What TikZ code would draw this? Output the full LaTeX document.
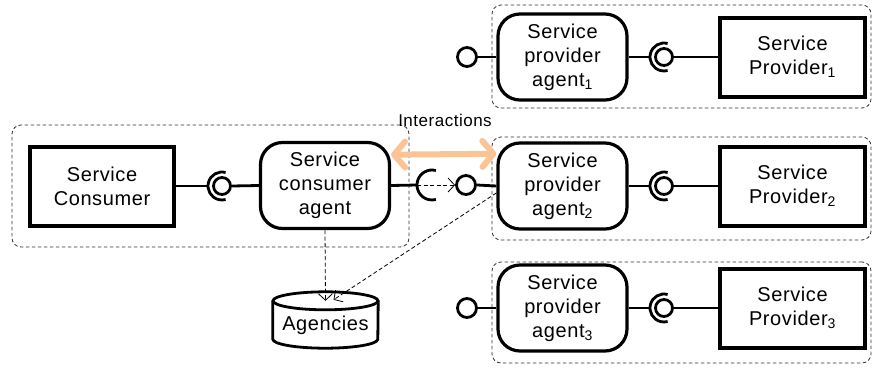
\documentclass[tikz,border=0pt]{standalone}
\usepackage{fontspec}
\setmainfont{Liberation Sans}[LetterSpace=3]
\usetikzlibrary{arrows.meta,positioning,calc}

\definecolor{peach}{RGB}{250,196,150}

\tikzset{
  group/.style={draw=black!80, dash pattern=on 3.5pt off 2.5pt, line width=0.8pt, rounded corners=9pt},
  agent/.style={draw, fill=white, rounded corners=22pt, line width=3.2pt, minimum width=129pt, minimum height=86pt, inner sep=1pt},
  party/.style={draw, fill=white, line width=4pt, minimum width=144pt, minimum height=79pt},
  ball/.style={draw, fill=white, circle, line width=2.8pt, minimum size=17pt, inner sep=0pt},
  wire/.style={line width=2.8pt},
  lookup/.style={dash pattern=on 4pt off 2.5pt, line width=0.8pt, -{Straight Barb[length=6.5pt, width=14pt]}},
}

% socket half-circle opening to the right, centred on #2
\newcommand{\socketarc}[2][14pt]{\draw[line width=2.8pt] (#2) ++(75:#1) arc[start angle=75, end angle=285, radius=#1];}

\begin{document}
\begin{tikzpicture}[x=1pt, y=-1pt, font=\fontsize{20}{24}\selectfont, every node/.style={align=center}]
  \useasboundingbox (0,0) rectangle (875,367);

  % dashed groupings
  \node[group, minimum width=397pt, minimum height=122pt] (gcons) at (210.5,186) {};
  \node[group, minimum width=379pt, minimum height=103pt] (gprov1) at (681.5,56.5) {};
  \node[group, minimum width=379pt, minimum height=103pt] (gprov2) at (681.5,188.5) {};
  \node[group, minimum width=379pt, minimum height=101pt] (gprov3) at (681.5,312.5) {};

  % consumer side
  \node[party] (sc) at (102,186) {Service\\Consumer};
  \node[agent] (ca) at (325,185.5) {Service\\consumer\\agent};
  \coordinate (kc) at (222,186);
  \node[ball] (bc) at (kc) {};
  \draw[wire] (sc.east) -- ($(kc)+(-14,0)$);
  \socketarc{kc}
  \draw[wire] (bc.east) -- (ca.west);

  % provider agents and providers
  \node[agent] (pa1) at (562.5,57) {Service\\provider\\agent\textsubscript{1}};
  \node[agent] (pa2) at (562.5,186) {Service\\provider\\agent\textsubscript{2}};
  \node[agent] (pa3) at (562.5,308) {Service\\provider\\agent\textsubscript{3}};
  \node[party, minimum width=145pt] (sp1) at (792.5,57) {Service\\Provider\textsubscript{1}};
  \node[party, minimum width=145pt] (sp2) at (792.5,186) {Service\\Provider\textsubscript{2}};
  \node[party, minimum width=145pt] (sp3) at (792.5,308) {Service\\Provider\textsubscript{3}};

  \coordinate (kp1) at (664,57);
  \coordinate (kp2) at (664,186);
  \coordinate (kp3) at (664,308);
  \node[ball] (bp1) at (kp1) {};
  \node[ball] (bp2) at (kp2) {};
  \node[ball] (bp3) at (kp3) {};
  \draw[wire] (pa1.east) -- ($(kp1)+(-14,0)$);
  \draw[wire] (pa2.east) -- ($(kp2)+(-14,0)$);
  \draw[wire] (pa3.east) -- ($(kp3)+(-14,0)$);
  \socketarc{kp1}
  \socketarc{kp2}
  \socketarc{kp3}
  \draw[wire] (bp1.east) -- (sp1.west);
  \draw[wire] (bp2.east) -- (sp2.west);
  \draw[wire] (bp3.east) -- (sp3.west);

  % offered interfaces of the provider agents
  \node[ball, minimum size=19pt] (ba1) at (467,57) {};
  \node[ball, minimum size=19pt] (ba2) at (466,185) {};
  \node[ball, minimum size=19pt] (ba3) at (467,308) {};
  \draw[wire] (ba1.east) -- (pa1.west);
  \draw[wire] (ba2.east) -- (pa2.west);
  \draw[wire] (ba3.east) -- (pa3.west);

  % required interface of the consumer agent
  \coordinate (kca) at (432,185);
  \draw[wire] (ca.east) -- ($(kca)+(-15,0)$);
  \socketarc[15pt]{kca}
  \draw[lookup] ($(kca)+(-15,0)$) -- (ba2.west);

  % registry drum
  \node[minimum width=105pt, minimum height=56pt, inner sep=0pt] (ag) at (325.5,320) {};
  \filldraw[fill=white, line width=2.8pt]
    ($(ag.north west)+(0,9)$) -- ($(ag.south west)+(0,-9)$)
    arc[start angle=180, end angle=360, x radius=52.5pt, y radius=9pt]
    -- ($(ag.north east)+(0,9)$);
  \filldraw[fill=white, line width=2.8pt] ($(ag.north)+(0,9)$) ellipse[x radius=52.5pt, y radius=9pt];
  \node (agtxt) at ($(ag.center)+(0,5)$) {Agencies};
  \coordinate (agin1) at ($(ag.north)+(0,9)$);
  \coordinate (agin2) at ($(ag.north)+(8,8)$);
  \draw[lookup] (ca.south) -- (agin1);
  \draw[lookup] (pa2.186) -- (agin2);

  % interactions between agents
  \draw[peach, line width=6pt, {Straight Barb[round, length=11pt, width=26pt]}-{Straight Barb[round, length=11pt, width=26pt]}]
    (ca.25) -- (pa2.154);
  \node[font=\fontsize{17}{19}\selectfont] (inter) at (445,120) {Interactions};
\end{tikzpicture}
\end{document}
